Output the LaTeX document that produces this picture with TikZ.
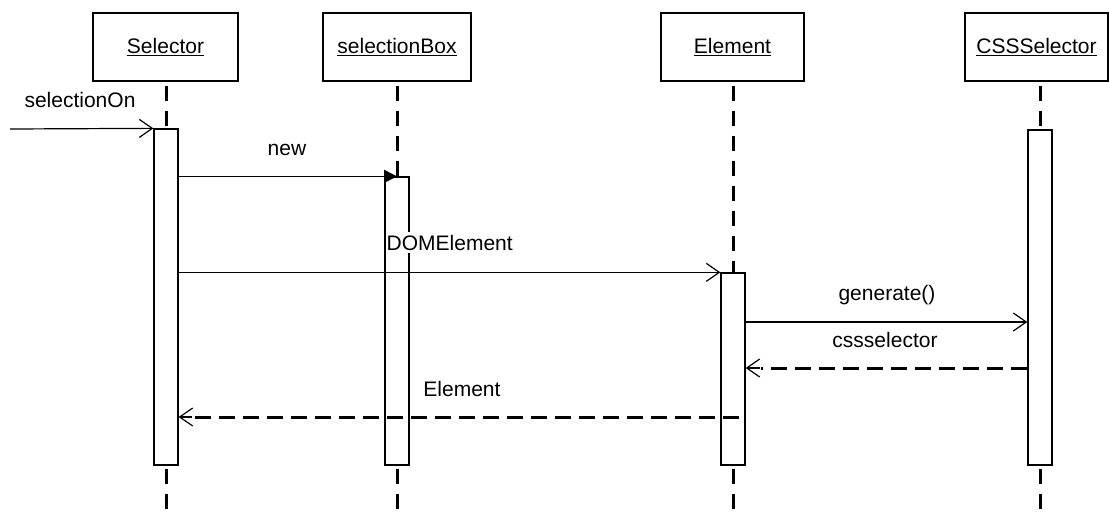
\documentclass[tikz,border=0pt]{standalone}
\usepackage{fontspec}
\setmainfont{Liberation Sans}
\usetikzlibrary{arrows.meta}
\begin{document}
\begin{tikzpicture}[x=1pt,y=-1pt,
  head/.style={draw, line width=1.3pt, minimum height=68pt, inner sep=0pt, font=\fontsize{21}{25}\selectfont},
  actbar/.style={draw, line width=1.3pt, minimum width=24pt, inner sep=0pt},
  life/.style={line width=3pt, dash pattern=on 15pt off 10pt},
  msg/.style={line width=1.2pt, -{Straight Barb[length=13pt,width=18pt,line width=1.2pt]}},
  create/.style={line width=1.2pt, -{Triangle[length=13pt,width=13pt]}},
  ret/.style={line width=3pt, dash pattern=on 16pt off 8pt},
  tip/.style={line width=1.2pt, -{Straight Barb[length=13pt,width=18pt,line width=1.2pt]}},
  lbl/.style={anchor=base, inner sep=0pt, font=\fontsize{21}{25}\selectfont}]
\useasboundingbox (0,0) rectangle (1109,515);

% heads
\node[head, minimum width=145pt] (selhead) at (165.5,47) {\underline{Selector}};
\node[head, minimum width=148pt] (boxhead) at (397,47) {\underline{selectionBox}};
\node[head, minimum width=143pt] (elhead) at (732.5,47) {\underline{Element}};
\node[head, minimum width=143pt] (csshead) at (1036.5,47) {\underline{CSSSelector}};

% activation bars
\node[actbar, minimum height=336pt] (selbar) at (166,297) {};
\node[actbar, minimum height=288pt] (boxbar) at (397,321) {};
\node[actbar, minimum height=192pt] (elbar) at (733,369) {};
\node[actbar, minimum height=335pt] (cssbar) at (1040,297.5) {};

% lifeline ends
\coordinate (selend) at (166,515);
\coordinate (boxend) at (397,515);
\coordinate (elend) at (733,515);
\coordinate (cssend) at (1040,515);

% lifelines
\draw[life, shorten <=4pt] (selbar.north |- selhead.south) -- (selbar.north);
\draw[life, shorten <=4pt] (boxbar.north |- boxhead.south) -- (boxbar.north);
\draw[life, shorten <=4pt] (elbar.north |- elhead.south) -- (elbar.north);
\draw[life, shorten <=4pt] (cssbar.north |- csshead.south) -- (cssbar.north);
\draw[life, shorten <=3pt] (selbar.south) -- (selend);
\draw[life, shorten <=3pt] (boxbar.south) -- (boxend);
\draw[life, shorten <=3pt] (elbar.south) -- (elend);
\draw[life, shorten <=3pt] (cssbar.south) -- (cssend);

% messages
\coordinate (start) at (10,129);
\draw[msg] (start) -- (selbar.north west);
\draw[create] (selbar.east |- boxbar.north) -- (boxbar.north);
\draw[msg] (selbar.east |- elbar.north) -- (elbar.north west);
\draw[msg] (elbar.east |- 0,322) -- (cssbar.west |- 0,322);

% returns
\draw[ret, shorten >=15pt] (cssbar.west |- 0,368) -- (elbar.east |- 0,368);
\draw[tip] (760,368) -- (elbar.east |- 0,368);
\draw[ret, shorten >=12pt] (739,417) -- (selbar.east |- 0,417);
\draw[tip] (192,417) -- (selbar.east |- 0,417);

% labels
\node[lbl] (lsel) at (80,107) {selectionOn};
\node[lbl] (lnew) at (287,155) {new};
\node[lbl, anchor=base west, fill=white, inner ysep=3pt] (ldom) at (386.5,250) {DOMElement};
\node[lbl] (lgen) at (887,300) {generate()};
\node[lbl] (lcss) at (885,347) {cssselector};
\node[lbl] (lel) at (462,396) {Element};
\end{tikzpicture}
\end{document}
